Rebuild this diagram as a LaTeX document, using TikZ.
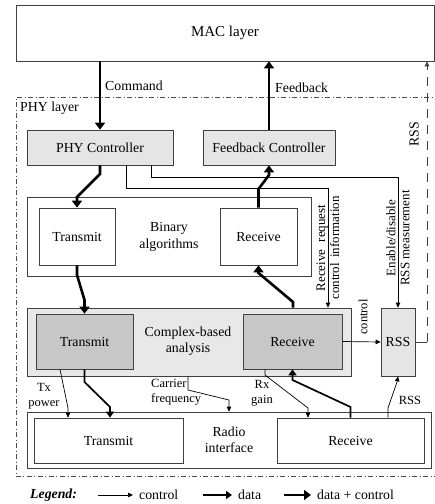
\documentclass[tikz,border=0pt]{standalone}
\usepackage{fontspec}
\setmainfont{Liberation Serif}
\usetikzlibrary{arrows.meta}
\newcommand\mainfs{\fontsize{13.8}{16.5}\selectfont}
\newcommand\lblfs{\fontsize{12.5}{15}\selectfont}
\newcommand\sidefs{\fontsize{13}{14}\selectfont}
\newcommand\macfs{\fontsize{15}{18}\selectfont}
\begin{document}
\begin{tikzpicture}[x=1pt,y=-1pt,
  box/.style={draw=black!75, line width=0.7pt, inner sep=0pt, align=center, font=\mainfs},
  txt/.style={inner sep=0pt, align=center, font=\mainfs},
  lbl/.style={inner sep=0pt, align=center, font=\lblfs},
  sidelbl/.style={inner sep=0pt, align=center, font=\sidefs, rotate=90},
  ctl/.style={line width=0.7pt, -{Triangle[length=5pt,width=4.5pt]}},
  dat/.style={line width=1.7pt, -{Triangle[length=6pt,width=8pt]}},
  dctl/.style={line width=2.6pt, -{Triangle[length=7pt,width=10pt]}},
  phyframe/.style={draw=black!70, line width=0.6pt, dash pattern=on 5pt off 2.5pt on 1pt off 2.5pt},
  rssline/.style={draw=black!75, line width=0.7pt}]
\useasboundingbox (0,0) rectangle (435,504);

% MAC layer
\node[box, font=\macfs, minimum width=418pt, minimum height=56pt] (mac) at (225,33) {MAC layer};

% PHY layer frame (runs past the right edge)
\draw[phyframe] (440,97) -- (16,97) -- (16,476) -- (440,476);
\node[txt, anchor=west] (phylbl) at (20,108) {PHY layer};

% controllers
\node[box, fill=black!10, minimum width=146pt, minimum height=35pt] (phyctl) at (100,147.5) {PHY Controller};
\node[box, fill=black!10, minimum width=132pt, minimum height=35pt] (fbctl) at (269,147.5) {Feedback Controller};

% binary algorithms
\node[box, minimum width=284pt, minimum height=79pt] (binary) at (169,236.5) {};
\node[box, minimum width=76pt, minimum height=57pt] (btx) at (77,236.5) {Transmit};
\node[box, minimum width=77pt, minimum height=57pt] (brx) at (258.5,236.5) {Receive};
\node[txt] (binlbl) at (169,237) {Binary\\algorithms};

% complex-based analysis
\node[box, fill=black!9, minimum width=324pt, minimum height=68pt] (complex) at (189,342) {};
\node[box, fill=black!22, minimum width=97pt, minimum height=55pt] (ctx) at (84.5,341.5) {Transmit};
\node[box, fill=black!22, minimum width=99pt, minimum height=55pt] (crx) at (292.5,341.5) {Receive};
\node[txt] (cpxlbl) at (188,341) {Complex-based\\analysis};

% RSS block
\node[box, fill=black!10, minimum width=34pt, minimum height=68pt] (rss) at (398,342) {RSS};

% radio interface
\node[box, minimum width=404pt, minimum height=56pt] (radio) at (229,440) {};
\node[box, minimum width=149pt, minimum height=45pt] (rtx) at (108.5,440.5) {Transmit};
\node[box, minimum width=147pt, minimum height=45pt] (rrx) at (350.5,440.5) {Receive};
\node[txt] (radlbl) at (229,440) {Radio\\interface};

% MAC <-> controllers
\draw[dctl] (mac.south -| phyctl.north) -- (phyctl.north);
\node[txt, anchor=west] (cmdlbl) at (105,86) {Command};
\draw[dctl] (fbctl.north) -- (fbctl.north |- mac.south);
\node[txt, anchor=west] (fblbl) at (275,88) {Feedback};

% RSS report to the MAC layer
\coordinate (rsscorner) at (427,342);
\draw[rssline] (rss.east) -- (rsscorner);
\draw[rssline, dash pattern=on 9pt off 7pt, -{Triangle[length=5pt,width=4.5pt]}] (rsscorner) -- (rsscorner |- mac.south);
\node[txt, rotate=90] (rsstop) at (414,134) {RSS};

% controllers <-> binary algorithms
\draw[dctl] (phyctl.south) -- (100,174) -- (77,197) -- (btx.north);
\draw[dctl] (brx.north) -- (258.5,189) -- (269,175) -- (fbctl.south);

% control lines from the PHY controller
\draw[ctl] (phyctl.south -| 126,0) |- (328,188) -- (complex.north -| 328,0);
\draw[ctl] (phyctl.south -| 151,0) |- (398,177) -- (rss.north);
\node[sidelbl] (reqlbl) at (328,248) {Receive\hspace{4pt} request\\control\hspace{2pt} information};
\node[sidelbl] (enlbl) at (398,238) {Enable/disable\\RSS measurement};

% binary <-> complex
\draw[dctl] (btx.south) -- (77,275) -- (84.5,300) -- (ctx.north);
\draw[dctl] (complex.north -| 293,0) -- (293,302) -- (258.5,273) -- (brx.south);

% complex receive -> RSS
\draw[ctl] (crx.east) -- (rss.west);
\node[lbl, rotate=90] (ctllbl) at (363,317) {control};

% complex -> radio interface
\draw[ctl] (ctx.south -| 60,0) -- (68,408) -- (rtx.north -| 68,0);
\node[lbl] (txlbl) at (44,396) {Tx\\power};
\draw[dat] (ctx.south) -- (84.5,382) -- (110,407) -- (rtx.north -| 110,0);
\draw[ctl] (complex.south -| 188,0) -- (188,390) -- (229,400) -- (radio.north);
\node[lbl, anchor=west, align=left] (cflbl) at (151,392) {Carrier\\frequency};
\draw[ctl] (crx.south -| 265,0) -- (265,375) -- (308,408) -- (rrx.north -| 308,0);
\node[lbl] (rxlbl) at (262,393) {Rx\\gain};

% radio interface -> complex / RSS
\draw[dat] (rrx.north) -- (350.5,407) -- (292.5,380) -- (crx.south);
\draw[ctl] (rrx.north -| 388,0) -- (388,408) -- (397,382) -- (rss.south);
\node[lbl] (rssbot) at (410,400) {RSS};

% legend
\node[txt, anchor=west, font=\mainfs\bfseries\itshape] (leg) at (30,495) {Legend:};
\coordinate (l1a) at (98,495);  \coordinate (l1b) at (133,495);
\coordinate (l2a) at (203,495); \coordinate (l2b) at (232,495);
\coordinate (l3a) at (284,495); \coordinate (l3b) at (311,495);
\draw[ctl] (l1a) -- (l1b);
\node[txt, anchor=west] (l1t) at (139,495) {control};
\draw[dat] (l2a) -- (l2b);
\node[txt, anchor=west] (l2t) at (238,495) {data};
\draw[dctl] (l3a) -- (l3b);
\node[txt, anchor=west] (l3t) at (317,495) {data + control};
\end{tikzpicture}
\end{document}
